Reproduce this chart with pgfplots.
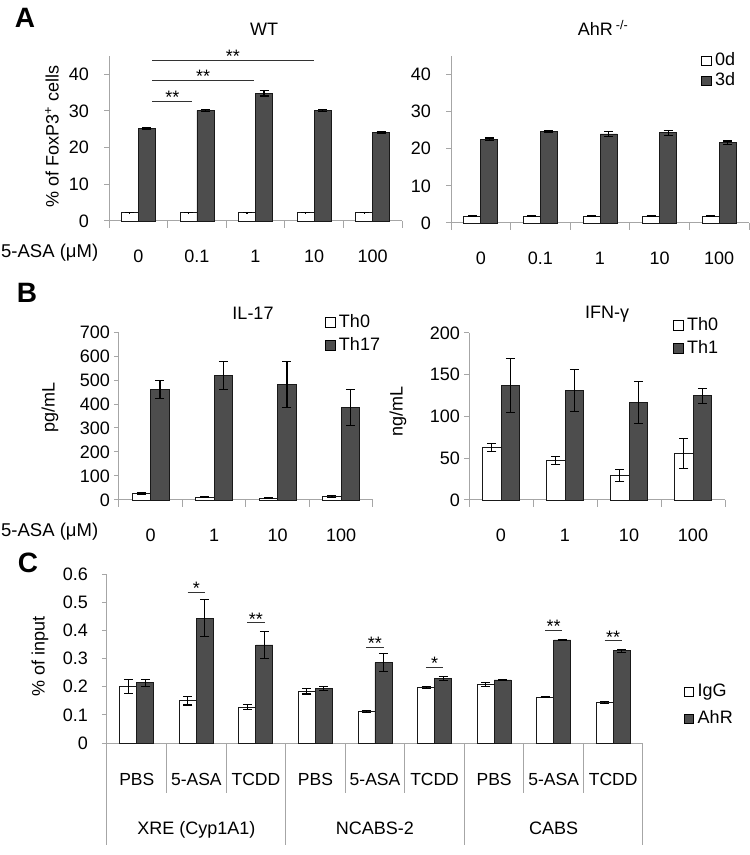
\documentclass[border=0pt]{standalone}
\usepackage{fontspec}
\setmainfont{Liberation Sans}
\usepackage{pgfplots}
\pgfplotsset{compat=1.18}
\definecolor{dk}{HTML}{4D4D4D}
\definecolor{ax}{HTML}{A6A6A6}
\newcommand{\fs}[1]{\fontsize{#1}{#1}\selectfont}
\tikzset{sigstar/.style={midway, above=-3pt, inner sep=0pt, font=\fs{18}, black}}
\pgfplotsset{
  base/.style={
    scale only axis, anchor=south west, ybar=0pt, enlargelimits=false, clip=false,
    axis x line*=bottom, axis y line*=left,
    axis line style={draw=ax, line width=1pt},
    ytick style={draw=ax, line width=1pt},
    xtick style={draw=none},
    tick align=outside, major tick length=5pt,
    /pgf/number format/assume math mode=true,
    tick label style={font=\fs{18}, text=black},
    label style={font=\fs{18}},
    xticklabel style={anchor=base, yshift=-37pt},
    yticklabel style={anchor=east, inner sep=0pt},
    ylabel style={anchor=center},
    legend style={draw=none, fill=none, font=\fs{18}, legend cell align=left,
      inner sep=0pt, nodes={inner sep=1.5pt, text height=13pt, text depth=4pt}, row sep=0pt, column sep=2pt},
  },
  sq/.style={legend image code/.code={\draw[line width=0.8pt, draw=black, ##1] (0pt,-4.5pt) rectangle (9.5pt,5pt);}},
  eb/.style={error bars/.cd, y dir=both, y explicit,
    error bar style={black, line width=1.1pt},
    error mark options={rotate=90, black, mark size=4.5pt, line width=1.1pt}},
  wb/.style={fill=white, draw=black!90, line width=0.8pt, eb},
  db/.style={fill=dk, draw=black!90, line width=0.8pt, eb},
}
\begin{document}
\begin{tikzpicture}
\path[use as bounding box] (0pt,0pt) rectangle (750pt,855pt);

% ---------- Panel A: WT ----------
\begin{axis}[base, at={(109pt,634pt)}, width=293pt, height=165pt,
  xmin=-0.5, xmax=4.5, ymin=0, ymax=45, ytick={0,10,20,30,40},
  yticklabel style={xshift=-15pt},
  xtick={0,1,2,3,4}, xticklabels={0,0.1,1,10,100}, bar width=17pt,
  ylabel={\% of FoxP3\textsuperscript{+} cells},
  ylabel style={at={(axis description cs:-0.195,0.51)}}]
\addplot[forget plot, bar shift=-8.5pt, wb] coordinates {(0,2.3) +- (0,0.1) (1,2.3) +- (0,0.1) (2,2.3) +- (0,0.1) (3,2.3) +- (0,0.1) (4,2.3) +- (0,0.1)};
\addplot[forget plot, bar shift=8.5pt, db] coordinates {(0,25.3) +- (0,0.2) (1,30.2) +- (0,0.3) (2,34.8) +- (0,0.7) (3,30.2) +- (0,0.3) (4,24.2) +- (0,0.2)};
\pgfplotsinvokeforeach{-0.5,0.5,1.5,2.5,3.5,4.5}{\draw[ax, line width=1pt] (axis cs:#1,0) -- ++(0pt,-7pt);}
\draw[black!80, line width=0.8pt] (axis cs:0.24,43.9) -- (axis cs:2.99,43.9) node[sigstar] {**};
\draw[black!80, line width=0.8pt] (axis cs:0.24,38.4) -- (axis cs:1.97,38.4) node[sigstar] {**};
\draw[black!80, line width=0.8pt] (axis cs:0.24,32.7) -- (axis cs:0.92,32.7) node[sigstar] {**};
\end{axis}

% ---------- Panel A: AhR-/- ----------
\begin{axis}[base, at={(451pt,632pt)}, width=298pt, height=167pt,
  xmin=-0.5, xmax=4.5, ymin=0, ymax=45, ytick={0,10,20,30,40},
  yticklabel style={xshift=-15pt},
  xtick={0,1,2,3,4}, xticklabels={0,0.1,1,10,100}, bar width=17pt,
  legend style={at={(axis description cs:0.839,1.03)}, anchor=north west}]
\addlegendimage{sq, fill=white}\addlegendentry{0d}
\addlegendimage{sq, fill=dk}\addlegendentry{3d}
\addplot[forget plot, bar shift=-8.5pt, wb] coordinates {(0,1.9) +- (0,0.2) (1,1.9) +- (0,0.2) (2,1.9) +- (0,0.2) (3,1.9) +- (0,0.2) (4,1.9) +- (0,0.2)};
\addplot[forget plot, bar shift=8.5pt, db] coordinates {(0,22.6) +- (0,0.3) (1,24.6) +- (0,0.2) (2,24.0) +- (0,0.7) (3,24.3) +- (0,0.7) (4,21.6) +- (0,0.5)};
\pgfplotsinvokeforeach{-0.5,0.5,1.5,2.5,3.5,4.5}{\draw[ax, line width=1pt] (axis cs:#1,0) -- ++(0pt,-7pt);}
\end{axis}

% ---------- Panel B: IL-17 ----------
\begin{axis}[base, at={(119pt,355pt)}, width=254pt, height=168pt,
  xmin=-0.5, xmax=3.5, ymin=0, ymax=700, ytick={0,100,...,700},
  yticklabel style={xshift=-4pt},
  xtick={0,1,2,3}, xticklabels={0,1,10,100}, bar width=18.5pt,
  ylabel={pg/mL}, ylabel style={at={(axis description cs:-0.272,0.55)}},
  legend style={at={(axis description cs:0.811,1.115)}, anchor=north west, row sep=3pt}]
\addlegendimage{sq, fill=white}\addlegendentry{Th0}
\addlegendimage{sq, fill=dk}\addlegendentry{Th17}
\addplot[forget plot, bar shift=-9.25pt, wb] coordinates {(0,28) +- (0,3) (1,11) +- (0,2) (2,7) +- (0,2) (3,14) +- (0,3)};
\addplot[forget plot, bar shift=9.25pt, db] coordinates {(0,460) +- (0,38) (1,519) +- (0,57) (2,481) +- (0,96) (3,385) +- (0,74)};
\pgfplotsinvokeforeach{-0.5,0.5,1.5,2.5,3.5}{\draw[ax, line width=1pt] (axis cs:#1,0) -- ++(0pt,-7pt);}
\end{axis}

% ---------- Panel B: IFN-gamma ----------
\begin{axis}[base, at={(469pt,355pt)}, width=256pt, height=167pt,
  xmin=-0.5, xmax=3.5, ymin=0, ymax=200, ytick={0,50,...,200},
  yticklabel style={xshift=-4pt},
  xtick={0,1,2,3}, xticklabels={0,1,10,100}, bar width=18.5pt,
  ylabel={ng/mL}, ylabel style={at={(axis description cs:-0.277,0.53)}},
  legend style={at={(axis description cs:0.797,1.105)}, anchor=north west, row sep=3pt}]
\addlegendimage{sq, fill=white}\addlegendentry{Th0}
\addlegendimage{sq, fill=dk}\addlegendentry{Th1}
\addplot[forget plot, bar shift=-9.25pt, wb] coordinates {(0,63) +- (0,5) (1,47) +- (0,5) (2,29) +- (0,7) (3,56) +- (0,18)};
\addplot[forget plot, bar shift=9.25pt, db] coordinates {(0,137) +- (0,32) (1,131) +- (0,25) (2,117) +- (0,25) (3,125) +- (0,9)};
\pgfplotsinvokeforeach{-0.5,0.5,1.5,2.5,3.5}{\draw[ax, line width=1pt] (axis cs:#1,0) -- ++(0pt,-7pt);}
\end{axis}

% ---------- Panel C ----------
\begin{axis}[base, at={(107pt,112pt)}, width=536pt, height=169pt,
  xmin=-0.5, xmax=8.5, ymin=0, ymax=0.6, ytick={0,0.1,0.2,0.3,0.4,0.5,0.6},
  yticklabel style={xshift=-14pt, /pgf/number format/fixed, /pgf/number format/precision=1},
  xtick={0,...,8}, xticklabels={PBS,5-ASA,TCDD,PBS,5-ASA,TCDD,PBS,5-ASA,TCDD},
  xticklabel style={font=\fs{17.5}}, bar width=17pt,
  ylabel={\% of input}, ylabel style={at={(axis description cs:-0.125,0.51)}},
  legend style={at={(axis description cs:1.076,0.36)}, anchor=north west, row sep=7pt}]
\addlegendimage{sq, fill=white}\addlegendentry{IgG}
\addlegendimage{sq, fill=dk}\addlegendentry{AhR}
\addplot[forget plot, bar shift=-8.5pt, wb] coordinates {(0,0.200) +- (0,0.025) (1,0.150) +- (0,0.015) (2,0.128) +- (0,0.010) (3,0.184) +- (0,0.010) (4,0.112) +- (0,0.003) (5,0.197) +- (0,0.005) (6,0.208) +- (0,0.008) (7,0.163) +- (0,0.003) (8,0.143) +- (0,0.003)};
\addplot[forget plot, bar shift=8.5pt, db] coordinates {(0,0.214) +- (0,0.012) (1,0.443) +- (0,0.066) (2,0.348) +- (0,0.049) (3,0.194) +- (0,0.008) (4,0.285) +- (0,0.032) (5,0.229) +- (0,0.007) (6,0.224) +- (0,0.003) (7,0.366) +- (0,0.003) (8,0.327) +- (0,0.005)};
\pgfplotsinvokeforeach{0.5,1.5,3.5,4.5,6.5,7.5}{\draw[ax, line width=1pt] (axis cs:#1,0) -- ++(0pt,-50pt);}
\pgfplotsinvokeforeach{-0.5,2.5,5.5,8.5}{\draw[ax, line width=1pt] (axis cs:#1,0) -- ++(0pt,-102pt);}
\node[anchor=base, font=\fs{18}] at ([yshift=-91pt]axis cs:1,0) {XRE (Cyp1A1)};
\node[anchor=base, font=\fs{18}] at ([yshift=-91pt]axis cs:4,0) {NCABS-2};
\node[anchor=base, font=\fs{18}] at ([yshift=-91pt]axis cs:7,0) {CABS};
\draw[black!80, line width=0.8pt] (axis cs:0.855,0.535) -- (axis cs:1.145,0.535) node[sigstar] {*};
\draw[black!80, line width=0.8pt] (axis cs:1.855,0.428) -- (axis cs:2.145,0.428) node[sigstar] {**};
\draw[black!80, line width=0.8pt] (axis cs:3.855,0.341) -- (axis cs:4.145,0.341) node[sigstar] {**};
\draw[black!80, line width=0.8pt] (axis cs:4.855,0.269) -- (axis cs:5.145,0.269) node[sigstar] {*};
\draw[black!80, line width=0.8pt] (axis cs:6.855,0.400) -- (axis cs:7.145,0.400) node[sigstar] {**};
\draw[black!80, line width=0.8pt] (axis cs:7.855,0.364) -- (axis cs:8.145,0.364) node[sigstar] {**};
\end{axis}

% ---------- free text ----------
\node[font=\bfseries\fs{28}] at (25pt,837pt) {A};
\node[font=\bfseries\fs{28}] at (27pt,562pt) {B};
\node[font=\bfseries\fs{28}] at (28pt,292pt) {C};
\node[font=\fs{18}] at (264pt,826pt) {WT};
\node[font=\fs{18}] at (603pt,827pt) {AhR\,\textsuperscript{-/-}};
\node[font=\fs{18}] at (253pt,542pt) {IL-17};
\node[font=\fs{18}] at (607pt,541pt) {IFN-γ};
\node[font=\fs{18.5}, anchor=base west, inner sep=0pt] at (1pt,597pt) {5-ASA (μM)};
\node[font=\fs{18.5}, anchor=base west, inner sep=0pt] at (1pt,318pt) {5-ASA (μM)};
\end{tikzpicture}
\end{document}
